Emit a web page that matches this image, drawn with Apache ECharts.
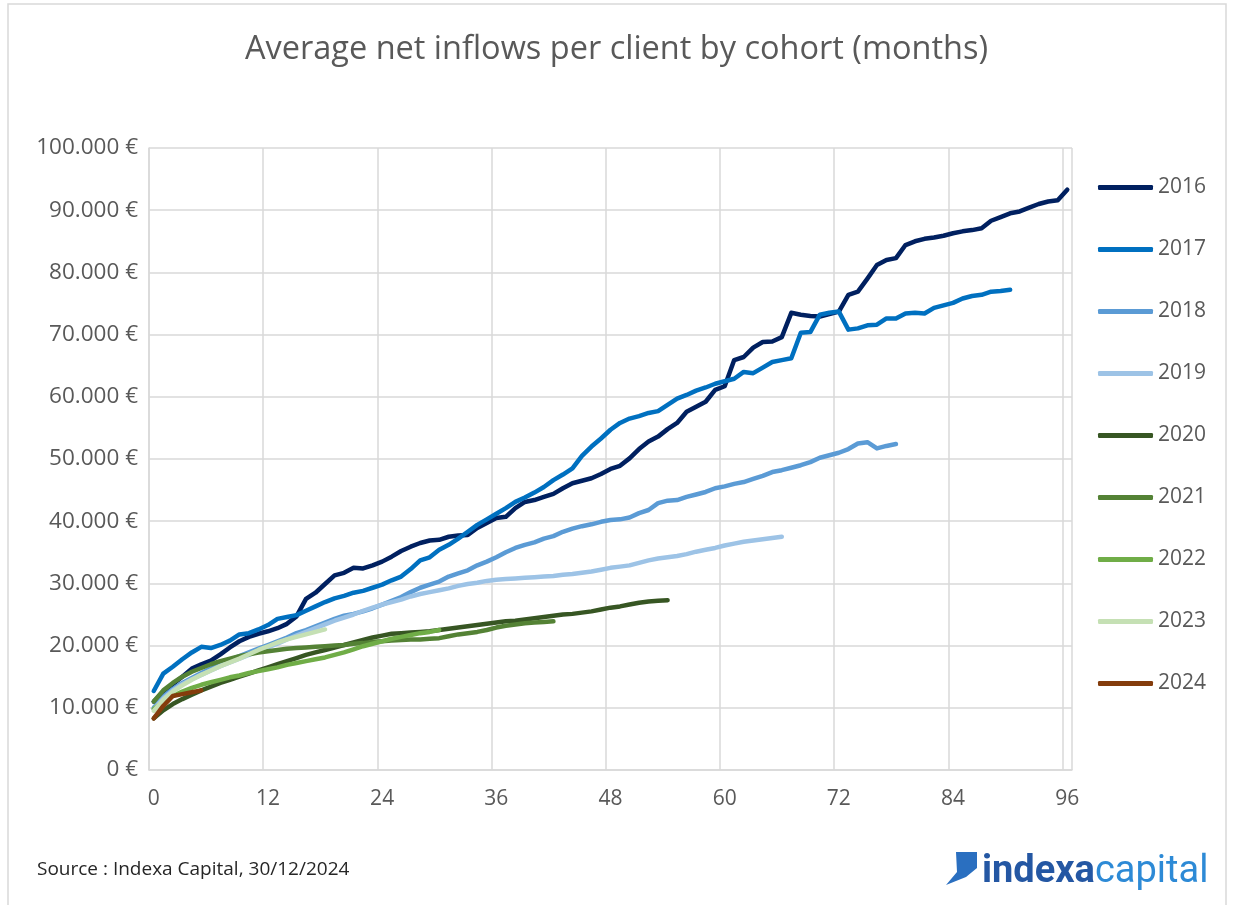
<!DOCTYPE html>
<html>
<head>
<meta charset="utf-8">
<script src="https://cdn.jsdelivr.net/npm/echarts@6/dist/echarts.min.js"></script>
<style>
html,body{margin:0;padding:0;background:#fff;}
#c{width:1233px;height:905px;}
</style>
</head>
<body>
<div id="c"></div>
<script>
// ---- data ----
const months = Array.from({length: 97}, (_, i) => String(i));
const cohorts = ['2016','2017','2018','2019','2020','2021','2022','2023','2024'];
const colors = ['#002060','#0070C0','#5B9BD5','#9DC3E6','#375623','#548235','#70AD47','#C5E0B4','#843C0C'];

const s2016 = [11000,12500,13800,15000,16300,17000,17600,18600,19700,20700,
21400,21900,22300,22800,23500,24700,27500,28500,29900,31300,
31700,32500,32400,32900,33500,34300,35200,35900,36500,36900,
37000,37500,37700,37800,38900,39700,40500,40700,42100,43100,
43400,43900,44400,45300,46100,46500,46900,47600,48400,48900,
50100,51600,52800,53600,54800,55800,57600,58400,59200,61100,
61700,65900,66400,67900,68800,68900,69600,73500,73200,73000,
72900,73300,73700,76400,76900,79000,81200,82000,82300,84400,
85000,85400,85600,85900,86300,86600,86800,87100,88300,88900,
89500,89800,90400,91000,91400,91600,93300];

const s2017 = [12700,15500,16600,17800,18900,19800,19600,20100,20800,21800,
22000,22600,23300,24300,24600,24900,25600,26300,27000,27600,
28000,28500,28800,29300,29800,30500,31100,32300,33700,34200,
35400,36200,37200,38300,39400,40300,41200,42100,43100,43800,
44600,45500,46600,47500,48500,50500,52000,53300,54700,55800,
56500,56900,57400,57700,58700,59700,60300,61000,61500,62100,
62500,62900,64000,63800,64700,65600,65900,66200,70300,70400,
73200,73500,73700,70800,71000,71500,71600,72600,72600,73400,
73500,73400,74300,74700,75100,75800,76200,76400,76900,77000,
77200];

const s2018 = [10000,11800,13000,14000,14800,15600,16300,17000,17700,18300,
18900,19500,20100,20700,21300,22000,22500,23100,23700,24300,
24800,25100,25500,26000,26600,27200,27800,28600,29300,29800,
30300,31100,31600,32100,32900,33500,34200,35000,35700,36200,
36600,37200,37600,38300,38800,39200,39500,39900,40200,40300,
40600,41300,41800,42900,43300,43400,43900,44300,44700,45300,
45600,46000,46300,46800,47300,47900,48200,48600,49000,49500,
50200,50600,51000,51600,52500,52700,51700,52100,52400];

const s2019 = [9800,11500,12800,13800,14600,15300,16000,16700,17300,17900,
18500,19100,19700,20300,21000,21600,22200,22800,23400,24000,
24500,25000,25600,26100,26600,27000,27400,27900,28300,28600,
28900,29200,29600,29900,30100,30400,30600,30700,30800,30900,
31000,31100,31200,31400,31500,31700,31900,32200,32500,32700,
32900,33300,33700,34000,34200,34400,34700,35100,35400,35700,
36100,36400,36700,36900,37100,37300,37500];

const s2020 = [8300,9600,10600,11400,12100,12800,13400,14000,14500,15000,
15500,16000,16500,17000,17500,18000,18500,18900,19300,19700,
20100,20500,20900,21300,21600,21900,22000,22100,22200,22300,
22500,22700,22900,23100,23300,23500,23700,23900,24000,24200,
24400,24600,24800,25000,25100,25300,25500,25800,26100,26300,
26600,26900,27100,27200,27300];

const s2021 = [11000,12800,14000,15000,15800,16400,17000,17500,17900,18300,
18600,18900,19100,19300,19500,19600,19700,19800,19900,20000,
20100,20300,20400,20600,20700,20800,20900,21000,21000,21100,
21200,21500,21800,22000,22200,22500,22900,23200,23400,23600,
23700,23800,23900];

const s2022 = [9800,11000,11900,12600,13200,13700,14100,14500,14900,15200,
15600,15900,16200,16500,16900,17200,17500,17800,18100,18500,
18900,19400,19900,20300,20700,21100,21400,21700,22000,22200,
22500];

const s2023 = [9500,11300,12600,13600,14500,15300,16000,16700,17300,17900,
18600,19300,19900,20500,21000,21400,21800,22200,22600];

const s2024 = [8300,10300,11900,12200,12500,12800];

const seriesValues = [s2016,s2017,s2018,s2019,s2020,s2021,s2022,s2023,s2024];

// ---- chart ----
const FONT = '"Open Sans", "Noto Sans", sans-serif';
const fmt = v => String(v).replace(/\B(?=(\d{3})+(?!\d))/g, '.') + ' €';
const chart = echarts.init(document.getElementById('c'), null, {renderer: 'canvas'});

function textWidth(t, font) {
  const cv = document.createElement('canvas').getContext('2d');
  cv.font = font;
  return cv.measureText(t).width;
}
const logoFont1 = 'bold 38px Roboto';
const logoFont2 = '38px Roboto';
const wIndexa = textWidth('indexa', logoFont1);

chart.setOption({
  animation: false,
  backgroundColor: '#ffffff',
  title: {
    text: 'Average net inflows per client by cohort (months)',
    left: 'center',
    top: 28,
    textStyle: {fontFamily: FONT, fontSize: 32.5, fontWeight: 'normal', color: '#595959'}
  },
  grid: {left: 149, top: 148, width: 923, height: 622, containLabel: false},
  legend: {
    orient: 'vertical',
    left: 1098,
    top: 177,
    padding: 0,
    itemWidth: 55,
    itemHeight: 5,
    itemGap: 41,
    icon: 'roundRect',
    textStyle: {fontFamily: FONT, fontSize: 21, color: '#595959', lineHeight: 20},
    data: cohorts
  },
  xAxis: {
    type: 'category',
    data: months,
    boundaryGap: true,
    axisLine: {show: true, lineStyle: {color: '#d9d9d9', width: 1.5}},
    axisTick: {show: false},
    axisLabel: {interval: 11, color: '#595959', fontFamily: FONT, fontSize: 21, margin: 19},
    splitLine: {show: true, interval: 11, lineStyle: {color: '#d9d9d9', width: 1.5}}
  },
  yAxis: {
    type: 'value',
    min: 0, max: 100000, interval: 10000,
    axisLine: {show: true, lineStyle: {color: '#d9d9d9', width: 1.5}},
    axisTick: {show: false},
    axisLabel: {formatter: fmt, color: '#595959', fontFamily: FONT, fontSize: 22.5, margin: 11},
    splitLine: {show: true, lineStyle: {color: '#d9d9d9', width: 1.5}}
  },
  series: cohorts.map((name, i) => ({
    name: name,
    type: 'line',
    data: seriesValues[i],
    symbol: 'none',
    showSymbol: false,
    smooth: false,
    itemStyle: {color: colors[i]},
    lineStyle: {color: colors[i], width: 4.5, cap: 'round', join: 'round'},
    emphasis: {disabled: true}
  })),
  graphic: [
    {type: 'rect', shape: {x: 8, y: 4, width: 1218, height: 920}, style: {fill: 'none', stroke: '#d9d9d9', lineWidth: 1.5}, silent: true},
    {type: 'text', x: 37, y: 870, style: {text: 'Source : Indexa Capital, 30/12/2024', font: '19px ' + FONT, fill: '#262626', verticalAlign: 'middle'}},
    {type: 'polygon', shape: {points: [[956,852],[977,852],[977,868],[966,877],[946,885],[957,872]]}, style: {fill: '#2a6fc0'}},
    {type: 'text', x: 982, y: 872, style: {text: 'indexa', font: logoFont1, fill: '#2457a3', verticalAlign: 'middle'}},
    {type: 'text', x: 982 + wIndexa, y: 872, style: {text: 'capital', font: logoFont2, fill: '#2d8ad6', verticalAlign: 'middle'}}
  ]
});
</script>
</body>
</html>
